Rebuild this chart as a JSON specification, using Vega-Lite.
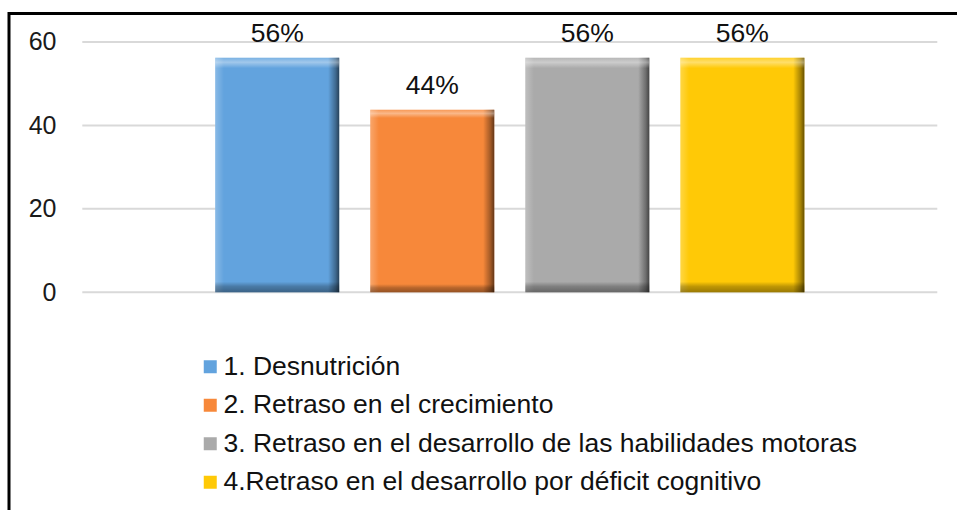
{
  "$schema": "https://vega.github.io/schema/vega-lite/v6.json",
  "width": 955,
  "height": 505,
  "autosize": {"type": "none"},
  "padding": {"left": 9, "top": 13.5, "right": -7, "bottom": -8.5},
  "background": "white",
  "config": {
    "view": {"stroke": "black", "strokeWidth": 3, "fill": "white"},
    "font": "Liberation Sans"
  },
  "datasets": {
    "bars": [
      {"cat": "1. Desnutrición", "idx": 1, "value": 56.25, "label": "56%"},
      {"cat": "2. Retraso en el crecimiento", "idx": 2, "value": 43.75, "label": "44%"},
      {"cat": "3. Retraso en el desarrollo de las habilidades motoras", "idx": 3, "value": 56.25, "label": "56%"},
      {"cat": "4.Retraso en el desarrollo por déficit cognitivo", "idx": 4, "value": 56.25, "label": "56%"}
    ],
    "grid": [{"g": 0}, {"g": 20}, {"g": 40}, {"g": 60}]
  },
  "layer": [
    {
      "data": {"name": "grid"},
      "mark": {"type": "rule", "color": "#D9D9D9", "strokeWidth": 2},
      "encoding": {
        "y": {"field": "g", "type": "quantitative",
              "scale": {"domain": [-54.22, 66.83], "nice": false, "zero": false},
              "axis": {"values": [0, 20, 40, 60], "title": null, "domain": false, "ticks": false, "tickSize": 0, "grid": false,
                       "labelFontSize": 25, "labelFont": "Liberation Sans", "labelColor": "#1a1a1a", "labelPadding": 0, "offset": -47}},
        "x": {"datum": -0.257, "type": "quantitative",
              "scale": {"domain": [-0.6975, 5.397], "nice": false, "zero": false}, "axis": null},
        "x2": {"datum": 5.257}
      }
    },
    {
      "data": {"name": "bars"},
      "layer": [
        {
          "mark": {"type": "bar", "width": 124},
          "encoding": {
            "color": {"field": "cat", "type": "nominal",
                      "scale": {"range": ["#62A3DE", "#F7883A", "#AAAAAA", "#FFC906"]},
                      "legend": {"title": null, "orient": "none", "legendX": 188, "legendY": 340,
                                 "direction": "vertical", "symbolType": "square", "symbolSize": 169,
                                 "symbolStrokeWidth": 0, "labelFontSize": 26.5, "labelFont": "Liberation Sans",
                                 "labelColor": "#111111", "labelOffset": 0, "rowPadding": 11.5, "padding": 0,
                                 "labelLimit": 900}}
          }
        },
        {
          "mark": {"type": "bar", "width": 124,
                   "fill": {"gradient": "linear", "x1": 0, "y1": 0, "x2": 1, "y2": 0,
                            "stops": [
                              {"offset": 0, "color": "rgba(255,255,255,0.25)"},
                              {"offset": 0.07, "color": "rgba(255,255,255,0)"},
                              {"offset": 0.91, "color": "rgba(0,0,0,0)"},
                              {"offset": 0.97, "color": "rgba(0,0,0,0.35)"},
                              {"offset": 1, "color": "rgba(0,0,0,0.6)"}
                            ]}}
        },
        {
          "mark": {"type": "bar", "width": 124,
                   "fill": {"gradient": "linear", "x1": 0, "y1": 0, "x2": 0, "y2": 1,
                            "stops": [
                              {"offset": 0, "color": "rgba(255,255,255,0.15)"},
                              {"offset": 0.02, "color": "rgba(255,255,255,0.4)"},
                              {"offset": 0.045, "color": "rgba(255,255,255,0)"},
                              {"offset": 0.955, "color": "rgba(0,0,0,0)"},
                              {"offset": 0.975, "color": "rgba(0,0,0,0.25)"},
                              {"offset": 1, "color": "rgba(0,0,0,0.4)"}
                            ]}}
        },
        {
          "mark": {"type": "text", "dy": -24, "baseline": "middle", "align": "center",
                   "fontSize": 26.5, "font": "Liberation Sans", "color": "#111111"},
          "encoding": {"text": {"field": "label"}}
        }
      ],
      "encoding": {
        "x": {"field": "idx", "type": "quantitative",
              "scale": {"domain": [-0.6975, 5.397], "nice": false, "zero": false}, "axis": null},
        "y": {"field": "value", "type": "quantitative",
              "scale": {"domain": [-54.22, 66.83], "nice": false, "zero": false},
              "axis": {"values": [0, 20, 40, 60], "title": null, "domain": false, "ticks": false, "tickSize": 0, "grid": false,
                       "labelFontSize": 25, "labelFont": "Liberation Sans", "labelColor": "#1a1a1a", "labelPadding": 0, "offset": -47}}
      }
    }
  ]
}
